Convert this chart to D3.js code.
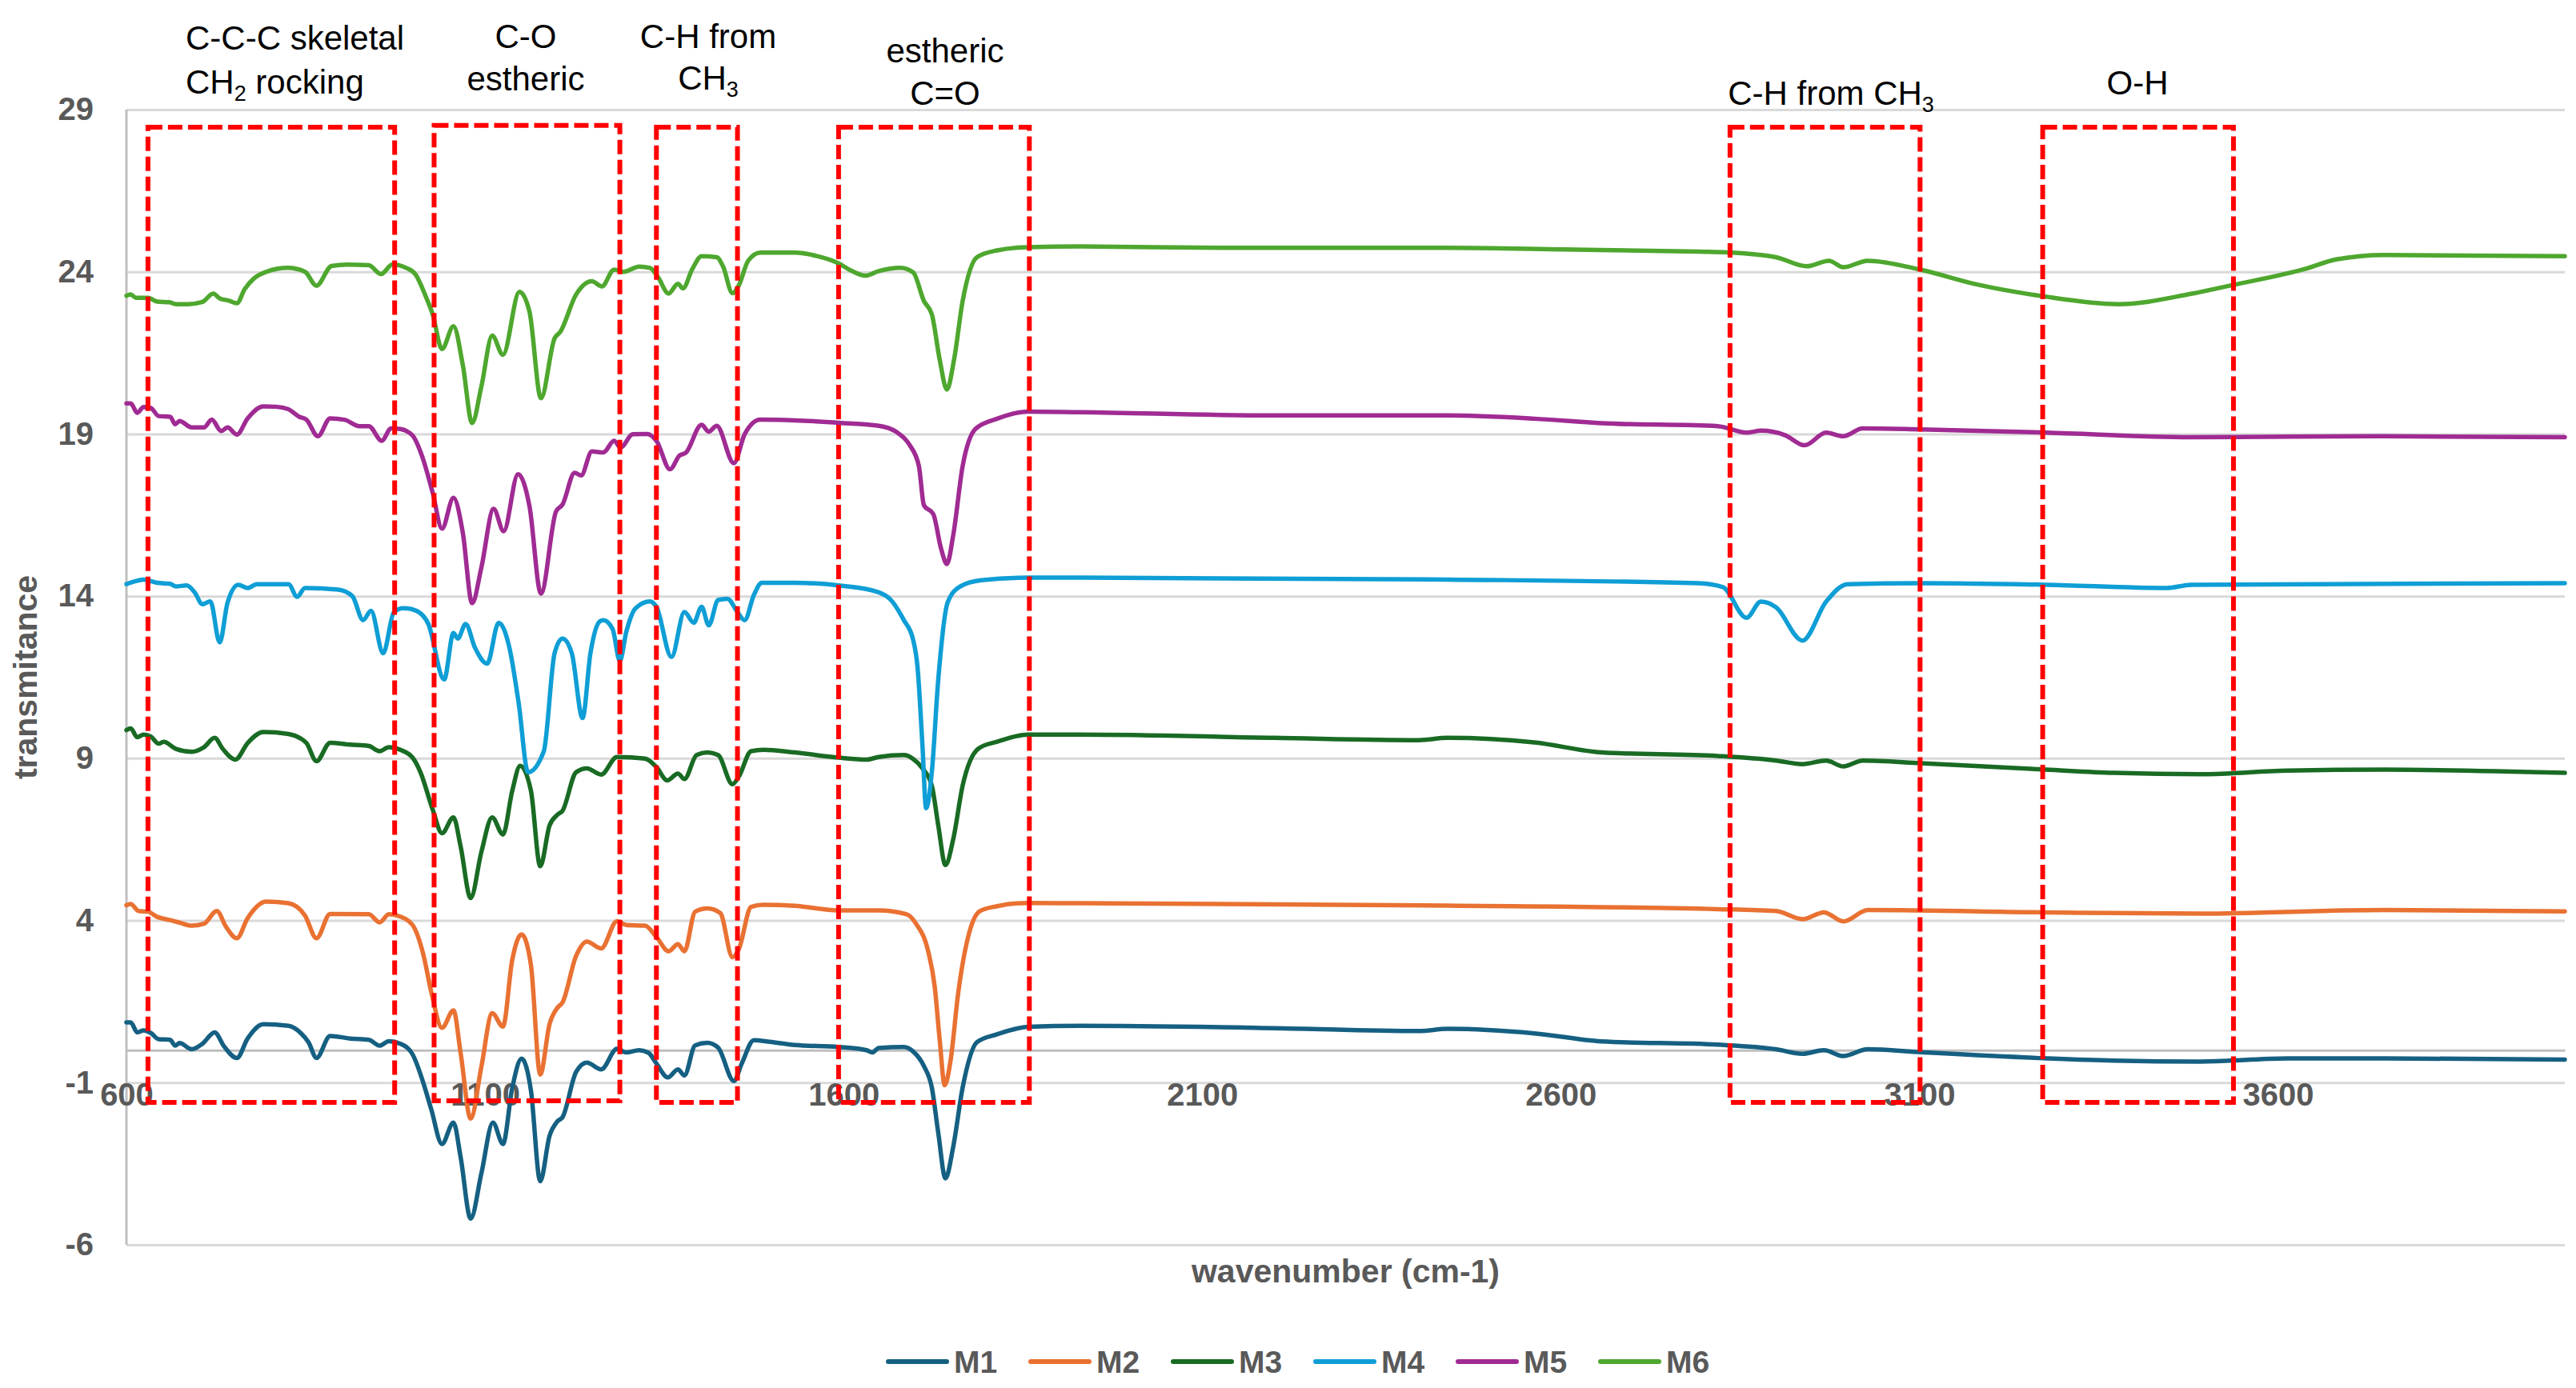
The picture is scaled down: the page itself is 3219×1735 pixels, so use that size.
<!DOCTYPE html>
<html>
<head>
<meta charset="utf-8">
<script src="https://cdn.jsdelivr.net/npm/d3@7/dist/d3.min.js"></script>
<style>
  html, body { margin: 0; padding: 0; background: #ffffff; }
  svg { display: block; }
  text { font-family: "Liberation Sans", Arial, "DejaVu Sans", sans-serif; }
</style>
</head>
<body>
<svg id="chart" width="3219" height="1735"></svg>
<script>
// ---------------- DATA ----------------
const seriesNames = ["M1", "M2", "M3", "M4", "M5", "M6"];

const M1 = [[600,0.86],[606,0.86],[615,0.55],[624,0.61],[634,0.53],[645,0.34],[661,0.32],[668,0.14],[674,0.22],[691,0.03],[706,0.2],[723,0.55],[736,0.12],[754,-0.24],[769,0.36],[791,0.8],[826,0.75],[843,0.53],[854,0.24],[865,-0.24],[884,0.44],[912,0.36],[938,0.32],[953,0.14],[966,0.28],[982,0.2],[999,-0.13],[1012,-0.87],[1025,-1.82],[1040,-2.89],[1056,-2.23],[1066,-3.3],[1080,-5.19],[1095,-3.79],[1111,-2.23],[1125,-2.89],[1138,-1.16],[1151,-0.26],[1164,-1.24],[1177,-4.04],[1190,-2.64],[1201,-2.19],[1208,-2.07],[1227,-0.67],[1242,-0.38],[1262,-0.59],[1284,0.04],[1297,-0.07],[1315,0],[1328,-0.08],[1339,-0.41],[1355,-0.84],[1369,-0.59],[1378,-0.78],[1393,0.15],[1410,0.23],[1425,0.08],[1447,-0.95],[1458,-0.41],[1475,0.31],[1497,0.26],[1532,0.16],[1593,0.1],[1632,0],[1640,-0.07],[1649,0.07],[1684,0.1],[1697,-0.04],[1712,-0.49],[1723,-1.15],[1732,-2.55],[1742,-3.95],[1753,-2.96],[1766,-1.15],[1786,0.25],[1814,0.49],[1857,0.72],[1930,0.75],[2200,0.68],[2402,0.59],[2442,0.66],[2563,0.52],[2657,0.27],[2819,0.17],[2900,0.03],[2937,-0.11],[2967,0],[2994,-0.18],[3028,0.03],[3102,-0.06],[3277,-0.25],[3371,-0.32],[3492,-0.35],[3613,-0.25],[3748,-0.25],[4000,-0.29]];

const M2 = [[600,4.47],[606,4.51],[617,4.29],[630,4.27],[643,4.11],[661,4.01],[673,3.94],[691,3.84],[708,3.9],[726,4.29],[739,3.8],[754,3.45],[769,4.07],[795,4.58],[826,4.53],[849,4.15],[865,3.45],[884,4.2],[938,4.19],[953,3.94],[966,4.19],[982,4.12],[999,3.86],[1014,2.95],[1025,1.8],[1040,0.69],[1056,1.23],[1066,-0.09],[1080,-2.11],[1095,-0.5],[1110,1.14],[1125,0.73],[1138,2.79],[1151,3.57],[1164,2.63],[1177,-0.75],[1190,0.81],[1201,1.31],[1208,1.47],[1227,2.91],[1242,3.35],[1262,3.14],[1284,3.98],[1297,3.86],[1323,3.84],[1339,3.49],[1356,3.05],[1369,3.27],[1378,3.05],[1393,4.27],[1410,4.37],[1428,4.23],[1445,2.87],[1454,3.12],[1471,4.42],[1488,4.48],[1532,4.45],[1593,4.31],[1649,4.31],[1688,4.19],[1701,3.9],[1718,3.04],[1727,1.97],[1734,0.32],[1741,-1.08],[1749,-0.34],[1760,1.8],[1775,3.61],[1790,4.29],[1814,4.44],[1857,4.54],[1930,4.53],[2442,4.46],[2819,4.35],[2900,4.29],[2937,4.04],[2967,4.25],[2994,3.97],[3028,4.32],[3277,4.25],[3492,4.21],[3748,4.32],[4000,4.28]];

const M3 = [[600,9.87],[606,9.92],[615,9.65],[624,9.73],[634,9.67],[645,9.45],[652,9.51],[669,9.29],[691,9.2],[708,9.34],[723,9.63],[734,9.3],[752,8.96],[769,9.47],[791,9.81],[826,9.75],[843,9.61],[851,9.47],[865,8.91],[884,9.48],[912,9.42],[938,9.38],[953,9.22],[966,9.34],[982,9.26],[999,9.02],[1010,8.57],[1027,7.42],[1040,6.69],[1056,7.18],[1066,6.28],[1080,4.69],[1095,6.12],[1110,7.18],[1125,6.65],[1138,8.0],[1149,8.77],[1164,8.0],[1177,5.67],[1190,6.93],[1201,7.26],[1208,7.38],[1227,8.57],[1242,8.69],[1262,8.5],[1284,9.04],[1323,8.99],[1339,8.73],[1354,8.32],[1369,8.53],[1378,8.36],[1395,9.1],[1410,9.18],[1425,9.1],[1445,8.2],[1454,8.44],[1471,9.22],[1488,9.26],[1532,9.18],[1593,9.02],[1632,8.96],[1649,9.04],[1684,9.1],[1697,8.98],[1710,8.69],[1723,8.16],[1732,6.93],[1742,5.71],[1753,6.52],[1766,8.16],[1788,9.3],[1814,9.51],[1857,9.73],[1930,9.73],[2200,9.63],[2402,9.56],[2442,9.63],[2563,9.49],[2657,9.18],[2819,9.07],[2900,8.93],[2937,8.82],[2970,8.93],[2994,8.75],[3021,8.93],[3102,8.85],[3277,8.65],[3371,8.55],[3492,8.51],[3613,8.62],[3748,8.65],[4000,8.55]];

const M4 = [[600,14.37],[611,14.45],[624,14.51],[643,14.41],[661,14.38],[669,14.3],[684,14.33],[695,14.12],[706,13.75],[717,13.84],[730,12.57],[741,13.8],[756,14.35],[769,14.25],[782,14.37],[826,14.37],[838,13.98],[849,14.25],[895,14.2],[915,14.0],[930,13.26],[941,13.55],[958,12.24],[973,13.51],[986,13.63],[1004,13.55],[1021,13.14],[1043,11.43],[1056,12.86],[1062,12.69],[1073,13.14],[1086,12.41],[1103,11.92],[1119,13.18],[1134,12.41],[1147,10.69],[1160,8.57],[1182,9.22],[1197,12.24],[1208,12.69],[1221,12.24],[1236,10.24],[1247,12.24],[1260,13.22],[1265,13.26],[1278,12.98],[1288,12.0],[1297,12.9],[1310,13.63],[1330,13.84],[1339,13.67],[1360,12.12],[1378,13.51],[1391,13.18],[1402,13.67],[1412,13.1],[1425,13.88],[1438,13.92],[1452,13.51],[1462,13.26],[1475,14.04],[1486,14.41],[1532,14.41],[1593,14.33],[1649,14.12],[1666,13.88],[1684,13.26],[1697,12.65],[1703,11.83],[1710,9.38],[1715,7.46],[1723,8.57],[1732,11.43],[1745,13.8],[1762,14.29],[1792,14.49],[1857,14.57],[1930,14.57],[2442,14.51],[2792,14.4],[2826,14.28],[2859,13.33],[2879,13.83],[2900,13.66],[2937,12.63],[2970,13.83],[3000,14.37],[3102,14.4],[3277,14.35],[3445,14.25],[3479,14.35],[4000,14.4]];

const M5 = [[600,19.94],[606,19.94],[615,19.65],[624,19.83],[634,19.8],[645,19.55],[661,19.53],[668,19.3],[674,19.4],[691,19.2],[708,19.2],[719,19.44],[732,19.09],[741,19.2],[754,18.98],[769,19.48],[791,19.85],[808,19.84],[825,19.77],[841,19.53],[851,19.44],[867,18.93],[884,19.48],[904,19.44],[925,19.24],[938,19.24],[956,18.79],[969,19.17],[982,19.15],[999,18.95],[1012,18.33],[1027,17.19],[1040,16.08],[1056,17.03],[1069,15.96],[1082,13.78],[1095,14.89],[1112,16.69],[1126,16.0],[1146,17.76],[1162,16.77],[1178,14.08],[1199,16.61],[1208,16.82],[1225,17.8],[1234,17.72],[1249,18.46],[1265,18.43],[1280,18.79],[1289,18.58],[1306,18.99],[1326,19.0],[1339,18.79],[1358,17.91],[1371,18.33],[1380,18.42],[1402,19.28],[1412,19.07],[1423,19.25],[1447,18.1],[1462,18.99],[1484,19.44],[1532,19.42],[1597,19.34],[1649,19.25],[1673,19.07],[1692,18.66],[1705,18.01],[1712,16.8],[1725,16.53],[1736,15.46],[1744,14.99],[1753,15.9],[1766,18.01],[1784,19.16],[1814,19.47],[1857,19.69],[1930,19.67],[2200,19.57],[2442,19.57],[2563,19.47],[2657,19.33],[2819,19.24],[2859,19.04],[2879,19.1],[2913,18.96],[2940,18.65],[2970,19.04],[2994,18.93],[3021,19.17],[3102,19.14],[3277,19.04],[3479,18.9],[3748,18.93],[4000,18.9]];

const M6 = [[600,23.26],[606,23.3],[613,23.2],[630,23.2],[643,23.08],[660,23.06],[669,23.0],[686,23.0],[706,23.07],[721,23.33],[730,23.18],[743,23.11],[754,23.03],[765,23.47],[778,23.8],[795,24.0],[825,24.12],[849,24.0],[865,23.57],[886,24.18],[908,24.22],[938,24.2],[955,23.93],[971,24.23],[990,24.12],[1003,23.92],[1017,23.26],[1027,22.69],[1040,21.62],[1056,22.32],[1069,21.13],[1082,19.34],[1095,20.47],[1110,22.03],[1125,21.44],[1148,23.38],[1162,22.77],[1178,20.1],[1197,21.95],[1205,22.15],[1227,23.3],[1249,23.71],[1263,23.55],[1280,24.07],[1293,24.0],[1315,24.16],[1330,24.12],[1341,23.84],[1356,23.33],[1369,23.63],[1376,23.49],[1389,24.08],[1402,24.48],[1423,24.45],[1432,24.16],[1445,23.34],[1454,23.59],[1467,24.34],[1484,24.59],[1532,24.59],[1562,24.49],[1593,24.26],[1610,24.04],[1630,23.88],[1649,24.02],[1679,24.12],[1697,23.98],[1712,23.1],[1723,22.69],[1734,21.29],[1744,20.37],[1754,21.29],[1766,23.1],[1786,24.45],[1814,24.66],[1857,24.76],[1930,24.78],[2132,24.74],[2442,24.74],[2603,24.69],[2792,24.62],[2832,24.6],[2900,24.45],[2943,24.17],[2974,24.34],[2994,24.14],[3028,24.34],[3102,24.06],[3182,23.6],[3271,23.25],[3378,23.0],[3479,23.32],[3539,23.6],[3640,24.1],[3681,24.38],[3748,24.52],[4000,24.48]];

const seriesValues = [M1, M2, M3, M4, M5, M6];

const xTicks = [600, 1100, 1600, 2100, 2600, 3100, 3600];
const yTicks = [-6, -1, 4, 9, 14, 19, 24, 29];
const xDomain = [600, 4000];
const yDomain = [-6, 29];

// highlighted regions: [wavenumber from, wavenumber to, value top, value bottom]
const regions = [
  [630, 974, 28.46, -1.61],
  [1029, 1288, 28.51, -1.56],
  [1339, 1452, 28.46, -1.61],
  [1593, 1859, 28.46, -1.61],
  [2836, 3101, 28.46, -1.61],
  [3272, 3538, 28.46, -1.61]
];

// region labels (text only); "_x_" marks a subscript
const regionLabels = [
  ["C-C-C skeletal", "CH_2_ rocking"],
  ["C-O", "estheric"],
  ["C-H from", "CH_3_"],
  ["estheric", "C=O"],
  ["C-H from CH_3_"],
  ["O-H"]
];

const xTitle = "wavenumber (cm-1)";
const yTitle = "transmitance";

// ---------------- LAYOUT / STYLE ----------------
const layout = {
  left: 158, right: 3205, top: 137, bottom: 1556,
  labelLayout: [
    { x: 232, anchor: "start", y: [62, 117] },
    { x: 657, anchor: "middle", y: [60, 113] },
    { x: 885, anchor: "middle", y: [60, 112] },
    { x: 1181, anchor: "middle", y: [78, 131] },
    { x: 2288, anchor: "middle", y: [131] },
    { x: 2671, anchor: "middle", y: [118] }
  ],
  legendX0: 1110, legendStep: 178, legendY: 1702, legendLine: 73
};
const style = {
  colors: ["#156082", "#E97132", "#196B24", "#0F9ED5", "#A02B93", "#4EA72E"],
  grid: "#D9D9D9", axis: "#BFBFBF", label: "#595959",
  font: '"Liberation Sans", Arial, sans-serif'
};

// ---------------- DRAW ----------------
const svg = d3.select("#chart");
svg.append("rect").attr("width", 3219).attr("height", 1735).attr("fill", "#fff");

const x = d3.scaleLinear().domain(xDomain).range([layout.left, layout.right]);
const y = d3.scaleLinear().domain(yDomain).range([layout.bottom, layout.top]);
const plotW = layout.right - layout.left;
const fmt = d => String(d);   // plain hyphen-minus like the original

// gridlines
const grid = svg.append("g").attr("transform", `translate(${layout.left},0)`)
  .call(d3.axisLeft(y).tickValues(yTicks).tickSize(-plotW).tickFormat(""));
grid.select(".domain").remove();
grid.selectAll(".tick line").attr("stroke", style.grid).attr("stroke-width", 3);

// y labels
const yAx = svg.append("g").attr("transform", `translate(${layout.left},0)`)
  .call(d3.axisLeft(y).tickValues(yTicks).tickSize(0).tickPadding(41).tickFormat(fmt));
yAx.select(".domain").remove();
yAx.selectAll("text").attr("font-size", 40).attr("font-weight", "bold")
  .attr("fill", style.label).attr("font-family", style.font);

// vertical axis line
svg.append("line").attr("x1", layout.left).attr("x2", layout.left)
  .attr("y1", y(yDomain[1])).attr("y2", y(yDomain[0]))
  .attr("stroke", style.axis).attr("stroke-width", 3);

// x axis (crossing at 0) with labels
const xAx = svg.append("g").attr("transform", `translate(0,${y(0)})`)
  .call(d3.axisBottom(x).tickValues(xTicks).tickSize(0).tickPadding(41).tickFormat(fmt));
xAx.select(".domain").attr("stroke", style.axis).attr("stroke-width", 3);
xAx.selectAll("text").attr("font-size", 40).attr("font-weight", "bold")
  .attr("fill", style.label).attr("font-family", style.font);

// series
const line = d3.line().x(d => x(d[0])).y(d => y(d[1])).curve(d3.curveMonotoneX);
svg.append("g").selectAll("path").data(seriesValues).join("path")
  .attr("d", line)
  .attr("fill", "none")
  .attr("stroke", (d, i) => style.colors[i])
  .attr("stroke-width", 5.5)
  .attr("stroke-linejoin", "round")
  .attr("stroke-linecap", "round");

// highlighted regions
svg.append("g").selectAll("rect").data(regions).join("rect")
  .attr("x", d => x(d[0]))
  .attr("y", d => y(d[2]))
  .attr("width", d => x(d[1]) - x(d[0]))
  .attr("height", d => y(d[3]) - y(d[2]))
  .attr("fill", "none")
  .attr("stroke", "#FF0000")
  .attr("stroke-width", 6)
  .attr("stroke-dasharray", "18,7");

// region labels
function writeRich(textSel, str) {
  const parts = str.split("_");
  parts.forEach((p, k) => {
    if (p === "") return;
    const isSub = k % 2 === 1;
    textSel.append("tspan").text(p)
      .attr("font-size", isSub ? 27 : 42)
      .attr("dy", isSub ? 9 : (k > 0 ? -9 : 0));
  });
}
regionLabels.forEach((lines, i) => {
  const L = layout.labelLayout[i];
  lines.forEach((str, j) => {
    const t = svg.append("text").attr("x", L.x).attr("y", L.y[j])
      .attr("text-anchor", L.anchor).attr("fill", "#000").attr("font-size", 42);
    writeRich(t, str);
  });
});

// axis titles
svg.append("text").attr("x", (layout.left + layout.right) / 2).attr("y", 1603)
  .attr("text-anchor", "middle").attr("font-size", 41).attr("font-weight", "bold")
  .attr("fill", style.label).text(xTitle);
svg.append("text").attr("transform", `translate(46,${(layout.top + layout.bottom) / 2}) rotate(-90)`)
  .attr("text-anchor", "middle").attr("font-size", 41).attr("font-weight", "bold")
  .attr("fill", style.label).text(yTitle);

// legend
const leg = svg.append("g").selectAll("g").data(seriesNames).join("g")
  .attr("transform", (d, i) => `translate(${layout.legendX0 + i * layout.legendStep},${layout.legendY})`);
leg.append("line").attr("x1", 0).attr("x2", layout.legendLine).attr("y1", 0).attr("y2", 0)
  .attr("stroke", (d, i) => style.colors[i]).attr("stroke-width", 6).attr("stroke-linecap", "round");
leg.append("text").attr("x", layout.legendLine + 9).attr("y", 0).attr("dy", "0.36em")
  .attr("font-size", 39).attr("font-weight", "bold").attr("fill", style.label).text(d => d);
</script>
</body>
</html>
